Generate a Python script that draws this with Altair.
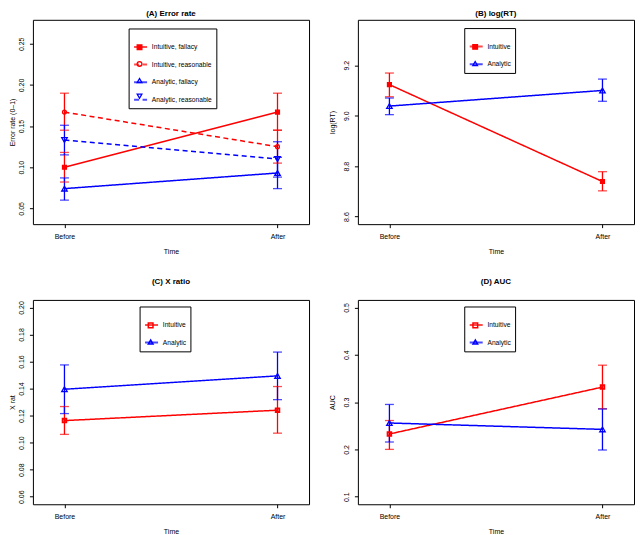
import functools
import altair as alt
import pandas as pd

FONT = "Liberation Sans"
RED = "#ff0000"
BLUE = "#0000ff"

time_labels = ["Before", "After"]

# Panel A: error rate
a_series = ["Intuitive, fallacy", "Intuitive, reasonable", "Analytic, fallacy", "Analytic, reasonable"]
a_codes = ["a1", "a2", "a3", "a4"]
a_before = [0.100, 0.167, 0.074, 0.133]
a_after = [0.167, 0.125, 0.093, 0.110]
a_before_lo = [0.082, 0.145, 0.060, 0.115]
a_before_hi = [0.118, 0.190, 0.087, 0.151]
a_after_lo = [0.145, 0.105, 0.074, 0.088]
a_after_hi = [0.190, 0.145, 0.112, 0.131]
a_ticks = [0.05, 0.10, 0.15, 0.20, 0.25]
a_domain = [0.0308, 0.2792]

# Panels B-D: two groups
g_series = ["Intuitive", "Analytic"]
g_codes = ["g1", "g2"]

b_before = [9.123, 9.038]
b_after = [8.739, 9.100]
b_before_lo = [9.075, 9.004]
b_before_hi = [9.169, 9.070]
b_after_lo = [8.702, 9.057]
b_after_hi = [8.778, 9.145]
b_ticks = [8.6, 8.8, 9.0, 9.2]
b_domain = [8.57, 9.38]

c_before = [0.1163, 0.1395]
c_after = [0.1240, 0.1494]
c_before_lo = [0.1061, 0.1215]
c_before_hi = [0.1267, 0.1575]
c_after_lo = [0.1070, 0.1318]
c_after_hi = [0.1415, 0.1670]
c_ticks = [0.06, 0.08, 0.10, 0.12, 0.14, 0.16, 0.18, 0.20]
c_domain = [0.0544, 0.2056]

d_before = [0.2326, 0.2558]
d_after = [0.3317, 0.2423]
d_before_lo = [0.200, 0.2156]
d_before_hi = [0.261, 0.295]
d_after_lo = [0.286, 0.1987]
d_after_hi = [0.378, 0.2854]
d_ticks = [0.1, 0.2, 0.3, 0.4, 0.5]
d_domain = [0.084, 0.516]

PANEL_W = 277
PANEL_H = 205


def panel(title, title_offset, y_title, y_title_pad, series, codes, tri_codes,
          before, after, blo, bhi, alo, ahi, y_domain, y_ticks, y_format,
          colors, dashes, shapes, fills, sq_size, sq_sw, leg_sw, leg_x, leg_y):
    rows = []
    for i, s in enumerate(series):
        rows.append(dict(series=s, marker=codes[i], time=time_labels[0],
                         value=before[i], lo=blo[i], hi=bhi[i]))
        rows.append(dict(series=s, marker=codes[i], time=time_labels[1],
                         value=after[i], lo=alo[i], hi=ahi[i]))
    df = pd.DataFrame(rows)
    base = alt.Chart(df)

    x = alt.X("time:N", sort=time_labels,
              scale=alt.Scale(type="point", padding=0.148),
              axis=alt.Axis(title="Time", labelAngle=0, labelPadding=4.5,
                            titlePadding=8.5, tickSize=3.5, labelBaseline="top",
                            titleBaseline="top"))
    yscale = alt.Scale(domain=y_domain, nice=False, zero=False)
    yaxis = alt.Axis(title=y_title, values=y_ticks, format=y_format,
                     labelAngle=270, labelAlign="center", labelBaseline="bottom",
                     labelPadding=5, tickSize=3.5, titleAngle=270,
                     titleBaseline="bottom", titlePadding=y_title_pad,
                     labelOverlap=False, labelFlush=False)
    cscale = alt.Scale(domain=series, range=colors)

    leg1 = alt.Legend(orient="none", legendX=leg_x, legendY=leg_y, title=" ",
                      titleFontSize=6, titlePadding=0.5, strokeColor="black",
                      fillColor="white", padding=4, cornerRadius=0,
                      symbolType="stroke", symbolSize=170, symbolStrokeWidth=2,
                      labelFont=FONT, labelFontSize=6.7, labelColor="black",
                      labelOffset=3.3, rowPadding=5.7, zindex=1, labelLimit=200)
    leg2 = alt.Legend(orient="none", legendX=leg_x + 3.6, legendY=leg_y + 11.5,
                      title=None, padding=4, labelExpr="''",
                      labelFont=FONT, labelFontSize=6.7, labelOffset=3.3,
                      rowPadding=5.7, symbolSize=22, symbolStrokeWidth=leg_sw,
                      zindex=2)
    color = alt.Color("series:N", scale=cscale, legend=leg1)

    is_tri = functools.reduce(lambda p, q: p | q,
                              [alt.datum.marker == c for c in tri_codes])

    rules = base.mark_rule(strokeWidth=1.3).encode(
        x=x, y=alt.Y("lo:Q", scale=yscale, axis=yaxis), y2="hi:Q", color=color)
    cap_lo = base.mark_tick(orient="horizontal", size=9, thickness=1.3).encode(
        x=x, y=alt.Y("lo:Q", scale=yscale, axis=yaxis), color=color)
    cap_hi = base.mark_tick(orient="horizontal", size=9, thickness=1.3).encode(
        x=x, y=alt.Y("hi:Q", scale=yscale, axis=yaxis), color=color)
    lines = base.mark_line(strokeWidth=1.5).encode(
        x=x, y=alt.Y("value:Q", scale=yscale, axis=yaxis),
        color=color,
        strokeDash=alt.StrokeDash("series:N",
                                  scale=alt.Scale(domain=series, range=dashes),
                                  legend=leg1))
    points = base.mark_point(filled=False, opacity=1).encode(
        x=x, y=alt.Y("value:Q", scale=yscale, axis=yaxis),
        shape=alt.Shape("marker:N", scale=alt.Scale(domain=codes, range=shapes), legend=leg2),
        stroke=alt.Stroke("marker:N", scale=alt.Scale(domain=codes, range=colors), legend=leg2),
        fill=alt.Fill("marker:N", scale=alt.Scale(domain=codes, range=fills), legend=leg2),
        size=alt.condition(is_tri, alt.value(30), alt.value(sq_size)),
        strokeWidth=alt.condition(is_tri, alt.value(1.3), alt.value(sq_sw)))

    return alt.layer(rules, cap_lo, cap_hi, lines, points).properties(
        width=PANEL_W, height=PANEL_H,
        title=alt.TitleParams(text=title, font=FONT, fontSize=8, fontWeight="bold",
                              color="black", offset=title_offset, anchor="middle"))


SOLID = [1, 0]
DASH = [5, 3.5]

pA = panel("(A) Error rate", 1.7, "Error rate (0–1)", 1.8, a_series, a_codes, ["a3", "a4"],
           a_before, a_after, a_before_lo, a_before_hi, a_after_lo, a_after_hi,
           a_domain, a_ticks, ".2f",
           [RED, RED, BLUE, BLUE], [SOLID, DASH, SOLID, DASH],
           ["square", "circle", "triangle-up", "triangle-down"],
           [RED, "transparent", "transparent", "transparent"], 15, 1.3, 1.3, 96, 8.7)
pB = panel("(B) log(RT)", 1.7, "log(RT)", 7, g_series, g_codes, ["g2"],
           b_before, b_after, b_before_lo, b_before_hi, b_after_lo, b_after_hi,
           b_domain, b_ticks, ".1f",
           [RED, BLUE], [SOLID, SOLID], ["square", "triangle-up"],
           [RED, "transparent"], 15, 1.3, 1.3, 106.7, 8.3)
pC = panel("(C) X ratio", 13.7, "X rat", 1.8, g_series, g_codes, ["g2"],
           c_before, c_after, c_before_lo, c_before_hi, c_after_lo, c_after_hi,
           c_domain, c_ticks, ".2f",
           [RED, BLUE], [SOLID, SOLID], ["square", "triangle-up"],
           ["transparent", "transparent"], 13, 1.9, 1.5, 107, 6.6)
pD = panel("(D) AUC", 13.7, "AUC", 7, g_series, g_codes, ["g2"],
           d_before, d_after, d_before_lo, d_before_hi, d_after_lo, d_after_hi,
           d_domain, d_ticks, ".1f",
           [RED, BLUE], [SOLID, SOLID], ["square", "triangle-up"],
           ["transparent", "transparent"], 13, 1.9, 1.5, 106.7, 6.6)

RES = dict(color="independent", strokeDash="independent", shape="independent",
           stroke="independent", fill="independent")

top = alt.hconcat(pA, pB, spacing=18).resolve_scale(**RES).resolve_legend(**RES)
bottom = alt.hconcat(pC, pD, spacing=18).resolve_scale(**RES).resolve_legend(**RES)

chart = alt.vconcat(top, bottom, spacing=22).resolve_scale(**RES).resolve_legend(**RES).properties(
    padding=0, background="white"
).configure_view(stroke="black", strokeWidth=1).configure_axis(
    labelFont=FONT, labelFontSize=7, labelColor="black",
    titleFont=FONT, titleFontSize=7, titleFontWeight="normal", titleColor="black",
    tickColor="black", tickWidth=1, domain=False, grid=False
)

chart.save("out.html", embed_options={"renderer": "svg", "actions": False})
